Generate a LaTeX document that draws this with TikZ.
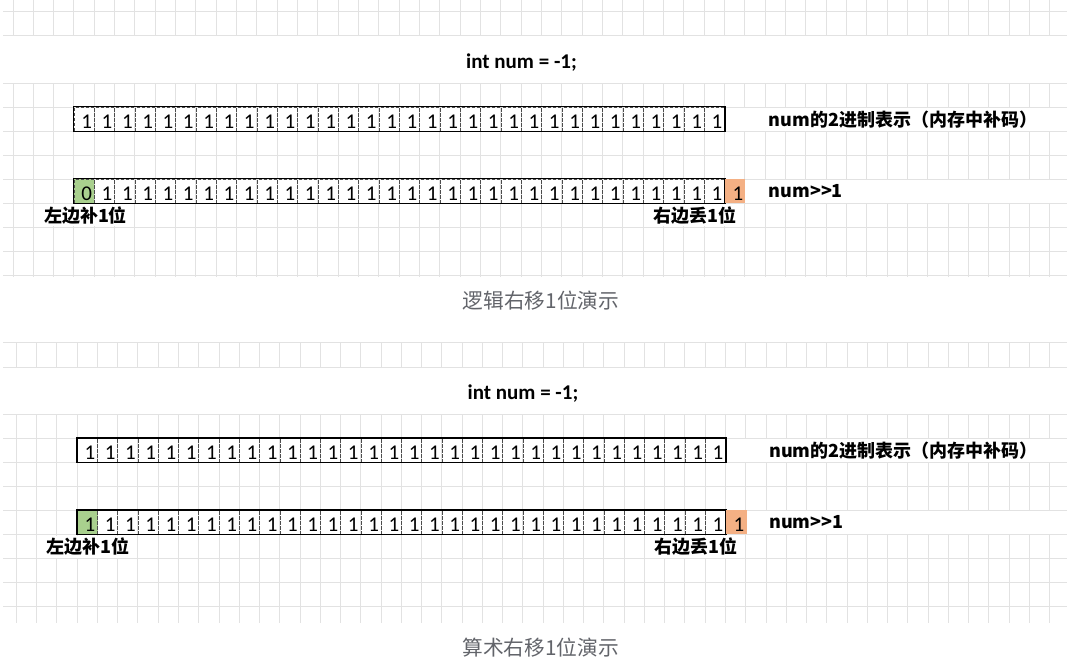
\documentclass[tikz,border=0pt]{standalone}
\usepackage{fontspec}
\setmainfont{Carlito}
\newfontfamily\cjk{Noto Sans CJK SC}
\usetikzlibrary{positioning}

\definecolor{gridgray}{RGB}{226,226,226}
\definecolor{padgreen}{RGB}{169,208,142}
\definecolor{droporange}{RGB}{244,176,132}
\definecolor{captiongray}{RGB}{98,100,106}

\begin{document}
\begin{tikzpicture}[
        x=1pt, y=-1pt,
        gridline/.style={gridgray, line width=1pt},
        bitnum/.style={font=\fontsize{21}{21}\selectfont, inner sep=0pt, xshift=2.5pt, yshift=-2.4pt},
        cell/.style={draw=black!70, dash pattern=on 3pt off 2pt, line width=0.8pt, minimum width=20.3pt, minimum height=24pt, inner sep=0pt, label={[bitnum]center:#1}},
        dropcell/.style={fill=droporange, minimum width=20.3pt, minimum height=24pt, inner sep=0pt, label={[bitnum]center:#1}},
        border/.style={black, line width=1.2pt},
        decl/.style={font=\bfseries\fontsize{21}{21}\selectfont, inner sep=0pt},
        note/.style={font=\cjk\bfseries\fontsize{18}{18}\selectfont, inner sep=1pt, minimum height=22pt},
        caption/.style={font=\cjk\fontsize{20.7}{20.7}\selectfont, text=captiongray, inner sep=0pt}
    ]
        \useasboundingbox (0,0) rectangle (1067,668);

        % Grid (logical shift)
        \foreach \r in {12,36} \draw[gridline] (3.3,\r) -- (1067,\r);
        \foreach \k in {0,...,51} \draw[gridline] (13+20.33*\k,0) -- (13+20.33*\k,36);
        \foreach \k in {0,...,8} \draw[gridline] (3.3,83.3+24*\k) -- (1067,83.3+24*\k);
        \foreach \k in {0,...,51} \draw[gridline] (13+20.33*\k,83.3) -- (13+20.33*\k,277);
        \fill[white] (726,108) rectangle (1067,130.6);
        \fill[white] (726,180) rectangle (1067,202.6);

        % Grid (arithmetic shift)
        \foreach \r in {342.7,367} \draw[gridline] (3.3,\r) -- (1067,\r);
        \foreach \k in {0,...,51} \draw[gridline] (16.4+20.26*\k,342.7) -- (16.4+20.26*\k,367);
        \foreach \k in {0,...,8} \draw[gridline] (3.3,414+24*\k) -- (1067,414+24*\k);
        \foreach \k in {0,...,51} \draw[gridline] (16.4+20.26*\k,414) -- (16.4+20.26*\k,623);
        \fill[white] (726,439) rectangle (1067,461.6);
        \fill[white] (726,511) rectangle (1067,533.6);

        % Logical shift
        \node (tdecl) [decl] at (521.5,62.5) {int num = -1;};
        \foreach \i in {1,...,32}
            \node (tnum\i) [cell=1, minimum width=20.33pt] at (74+20.33*\i-10.165,119.3) {};
        \draw[border] (tnum1.north west) rectangle (tnum32.south east);

        \node (tshift1) [cell=0, minimum width=20.33pt, fill=padgreen] at (84.165,191.3) {};
        \foreach \i in {2,...,32}
            \node (tshift\i) [cell=1, minimum width=20.33pt] at (74+20.33*\i-10.165,191.3) {};
        \draw[border] (tshift1.north west) rectangle (tshift32.south east);
        \node (tdrop) [dropcell=1, right=0pt of tshift32] {};

        \node (tbinary) [note, anchor=west] at (767.5,119.3) {num的2进制表示（内存中补码）};
        \node (tresult) [note, anchor=west] at (767.5,191.3) {num>>1};
        \node (tpad) [note, fill=white] at (85.5,215.5) {左边补1位};
        \node (tlost) [note, fill=white] at (695,215.5) {右边丢1位};
        \node (tcaption) [caption] at (541,301) {逻辑右移1位演示};

        % Arithmetic shift
        \node (bdecl) [decl] at (523,393.5) {int num = -1;};
        \foreach \i in {1,...,32}
            \node (bnum\i) [cell=1, minimum width=20.26pt] at (77.3+20.26*\i-10.13,450.3) {};
        \draw[border] (bnum1.north west) rectangle (bnum32.south east);

        \node (bshift1) [cell=1, minimum width=20.26pt, fill=padgreen] at (87.43,522.3) {};
        \foreach \i in {2,...,32}
            \node (bshift\i) [cell=1, minimum width=20.26pt] at (77.3+20.26*\i-10.13,522.3) {};
        \draw[border] (bshift1.north west) rectangle (bshift32.south east);
        \node (bdrop) [dropcell=1, right=0pt of bshift32] {};

        \node (bbinary) [note, anchor=west] at (768,450.3) {num的2进制表示（内存中补码）};
        \node (bresult) [note, anchor=west] at (768,522.3) {num>>1};
        \node (bpad) [note, fill=white] at (88,546.5) {左边补1位};
        \node (blost) [note, fill=white] at (696.3,546.5) {右边丢1位};
        \node (bcaption) [caption] at (540.5,648) {算术右移1位演示};
    \end{tikzpicture}
\end{document}
